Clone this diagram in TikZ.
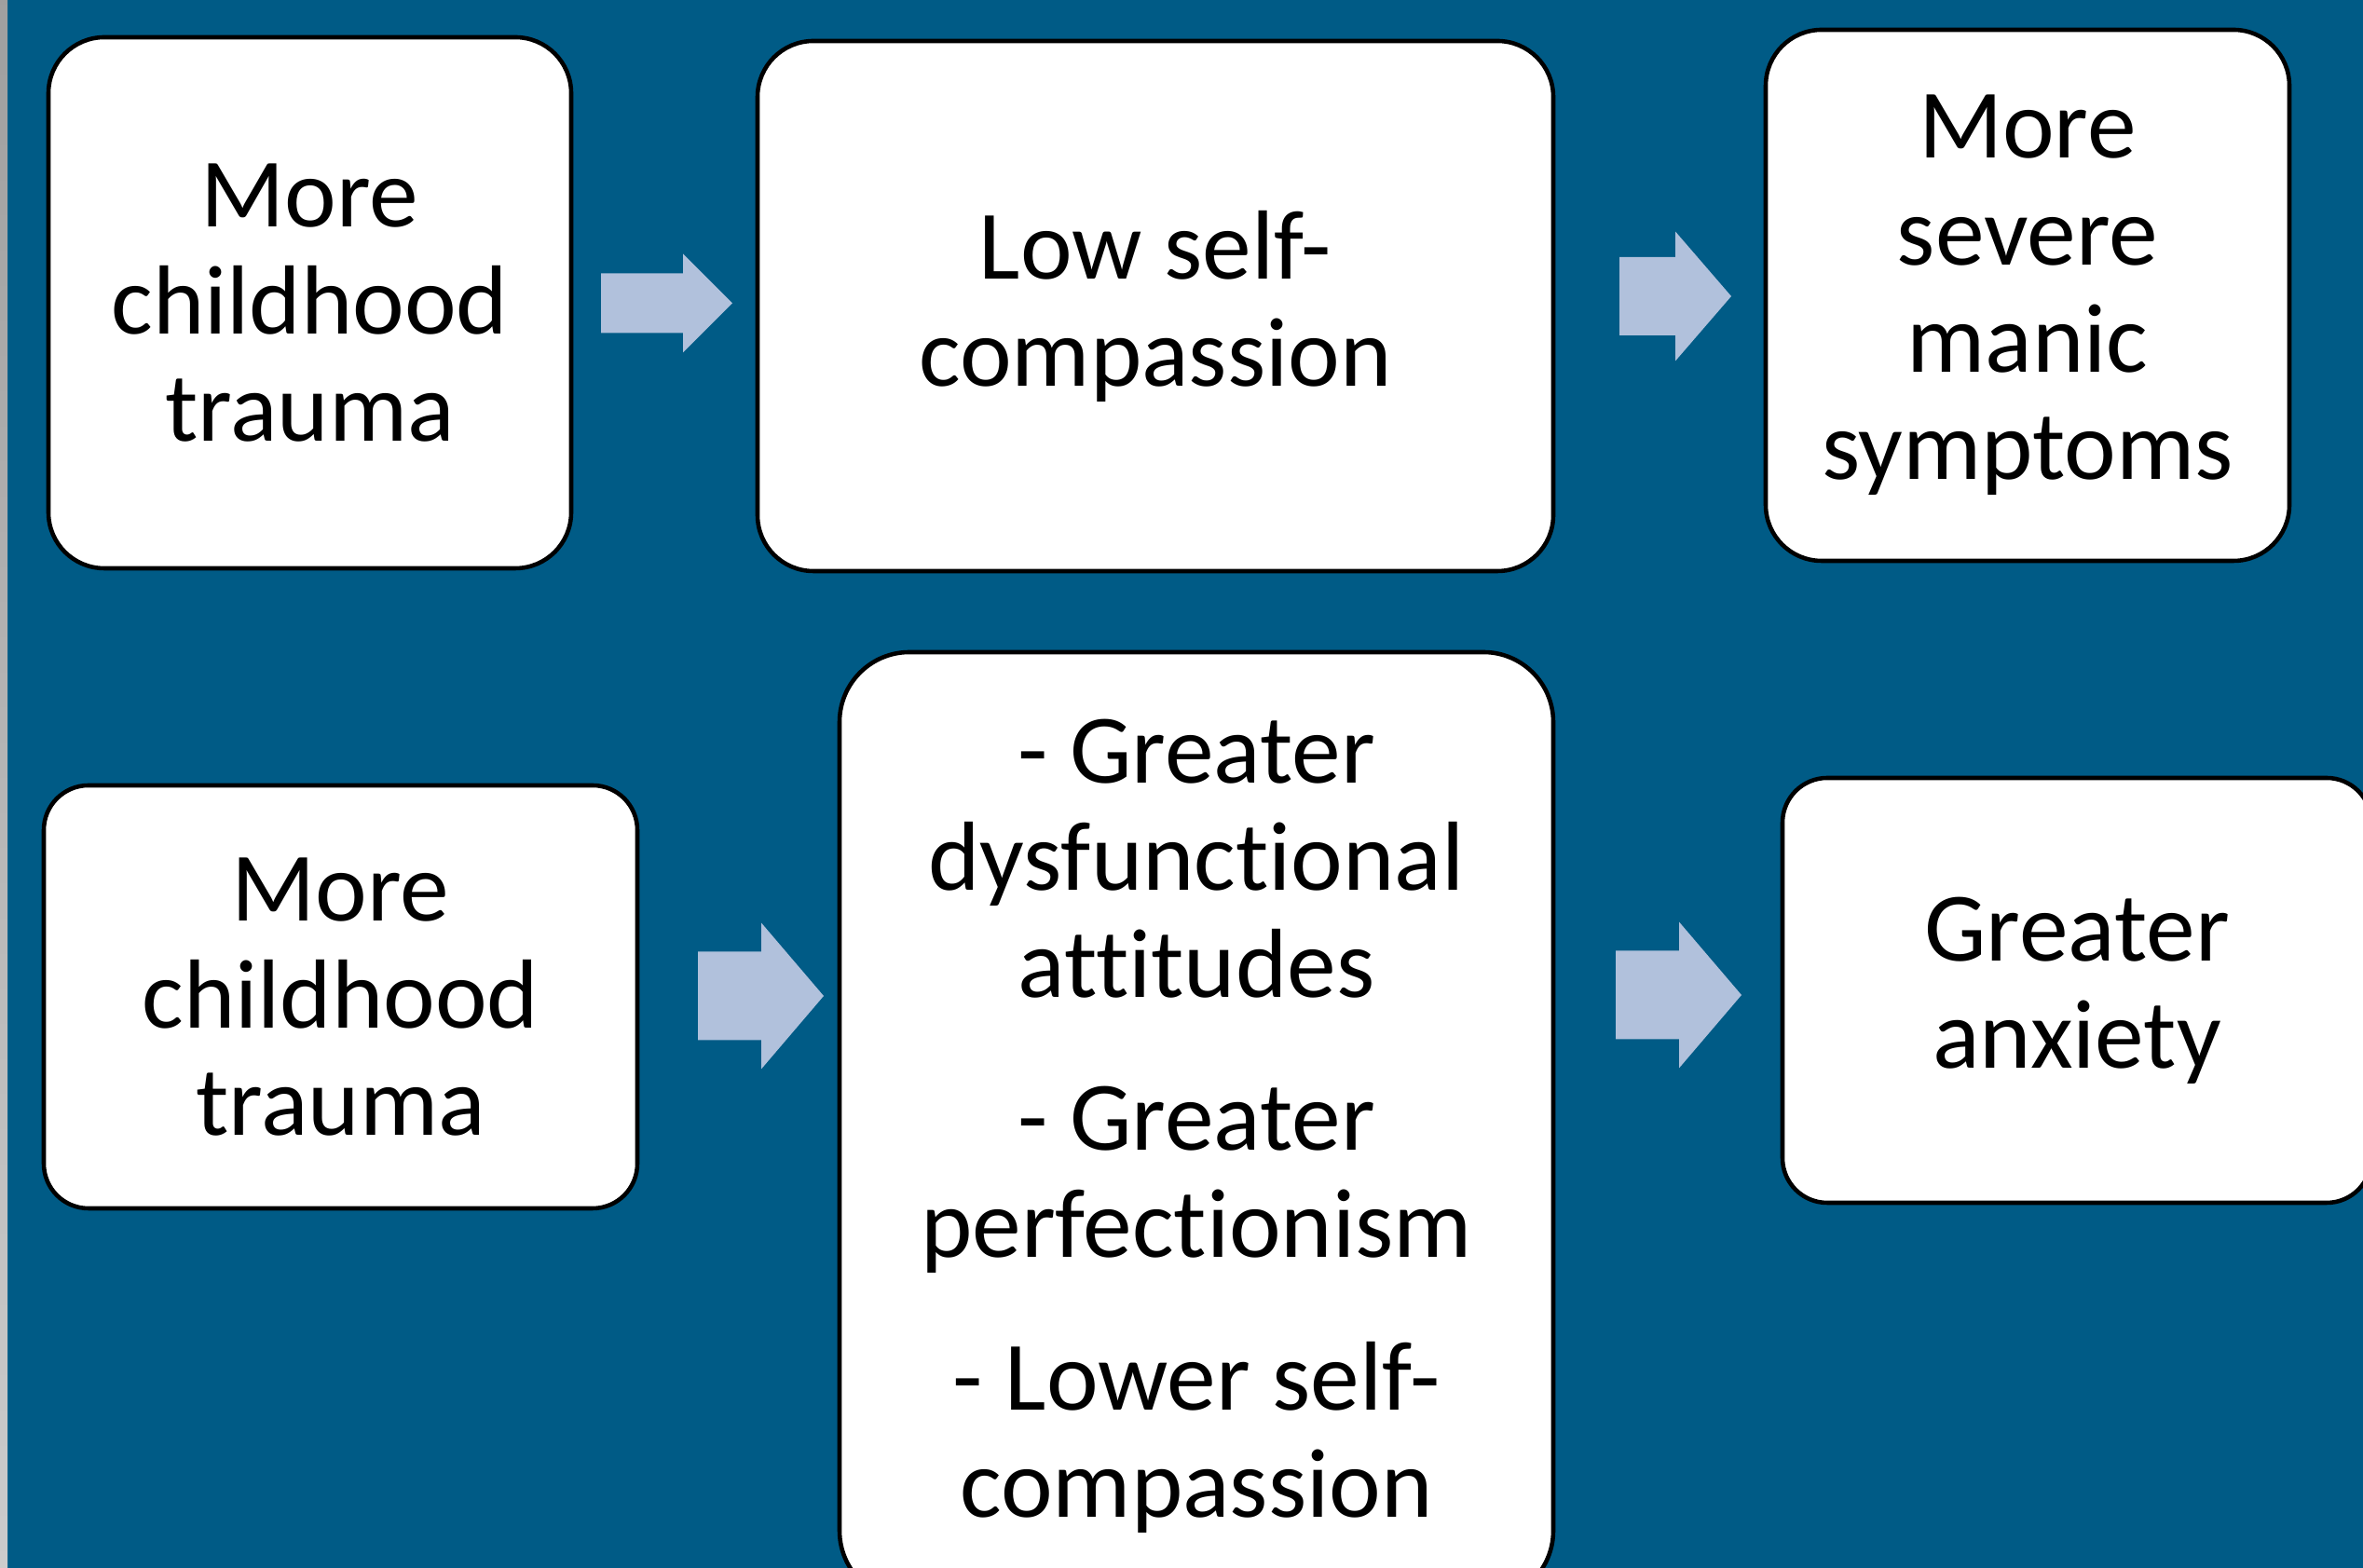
\documentclass[tikz,border=0pt]{standalone}
\usepackage{fontspec}
\setmainfont{Carlito}[Ligatures=NoCommon]
\usepackage{xcolor}
\usepackage{tikz}
\usetikzlibrary{positioning, calc}
\definecolor{slideblue}{RGB}{0,91,134}
\definecolor{arrowblue}{RGB}{177,193,220}
\tikzset{
  box/.style={draw, fill=white, line width=1.3pt, rounded corners=0.6cm, align=center, inner sep=0pt,
    font=\fontsize{30}{32.7}\selectfont},
  fatarrow/.style={fill=arrowblue, draw=none}
}
\newcommand{\blockarrow}[7]{%
  \begin{scope}[shift={(#1,#2)}]
    \coordinate (#7) at (0,0);
    \fill[fatarrow] (0,#5) -- ({#3-#4},#5) -- ({#3-#4},#6) -- (#3,0)
      -- ({#3-#4},-#6) -- ({#3-#4},-#5) -- (0,-#5) -- cycle;
  \end{scope}
}

\begin{document}
\begin{tikzpicture}
        % Slide background
        \useasboundingbox (0,0) rectangle (25.36,16.83);
        \clip (0,0) rectangle (25.36,16.83);
        \fill[slideblue] (0,0) rectangle (25.36,16.83);
        \shade[top color=gray!75, bottom color=gray!40] (0,0) rectangle (0.08,16.83);

        % Top row
        \node[box, minimum width=5.61cm, minimum height=5.70cm] (trauma1)  at (3.325,13.58)  {More\\childhood\\trauma};
        \node[box, minimum width=8.54cm, minimum height=5.69cm] (selfcomp) at (12.40,13.545) {Low self-\\compassion};
        \node[box, minimum width=5.62cm, minimum height=5.70cm] (manic)    at (21.76,13.66)  {More\\severe\\manic\\symptoms};

        % Bottom row
        \node[box, minimum width=6.37cm, minimum height=4.54cm, rounded corners=0.48cm] (trauma2)   at (3.655,6.13) {More\\childhood\\trauma};
        \node[box, minimum width=7.66cm, minimum height=10.18cm, rounded corners=0.75cm] (mediators) at (12.84,4.74)
          {- Greater\\dysfunctional\\attitudes\\[14pt]- Greater\\perfectionism\\[14pt]- Lower self-\\compassion};
        \node[box, minimum width=6.32cm, minimum height=4.56cm, rounded corners=0.48cm] (anxiety)   at (22.29,6.20) {Greater\\anxiety};

        % Arrows
        \blockarrow{6.45}{13.575}{1.41}{0.53}{0.32}{0.53}{arrA}
        \blockarrow{17.38}{13.65}{1.20}{0.60}{0.42}{0.695}{arrB}
        \blockarrow{7.49}{6.14}{1.35}{0.67}{0.475}{0.785}{arrC}
        \blockarrow{17.34}{6.15}{1.35}{0.67}{0.475}{0.785}{arrD}
    \end{tikzpicture}
\end{document}
